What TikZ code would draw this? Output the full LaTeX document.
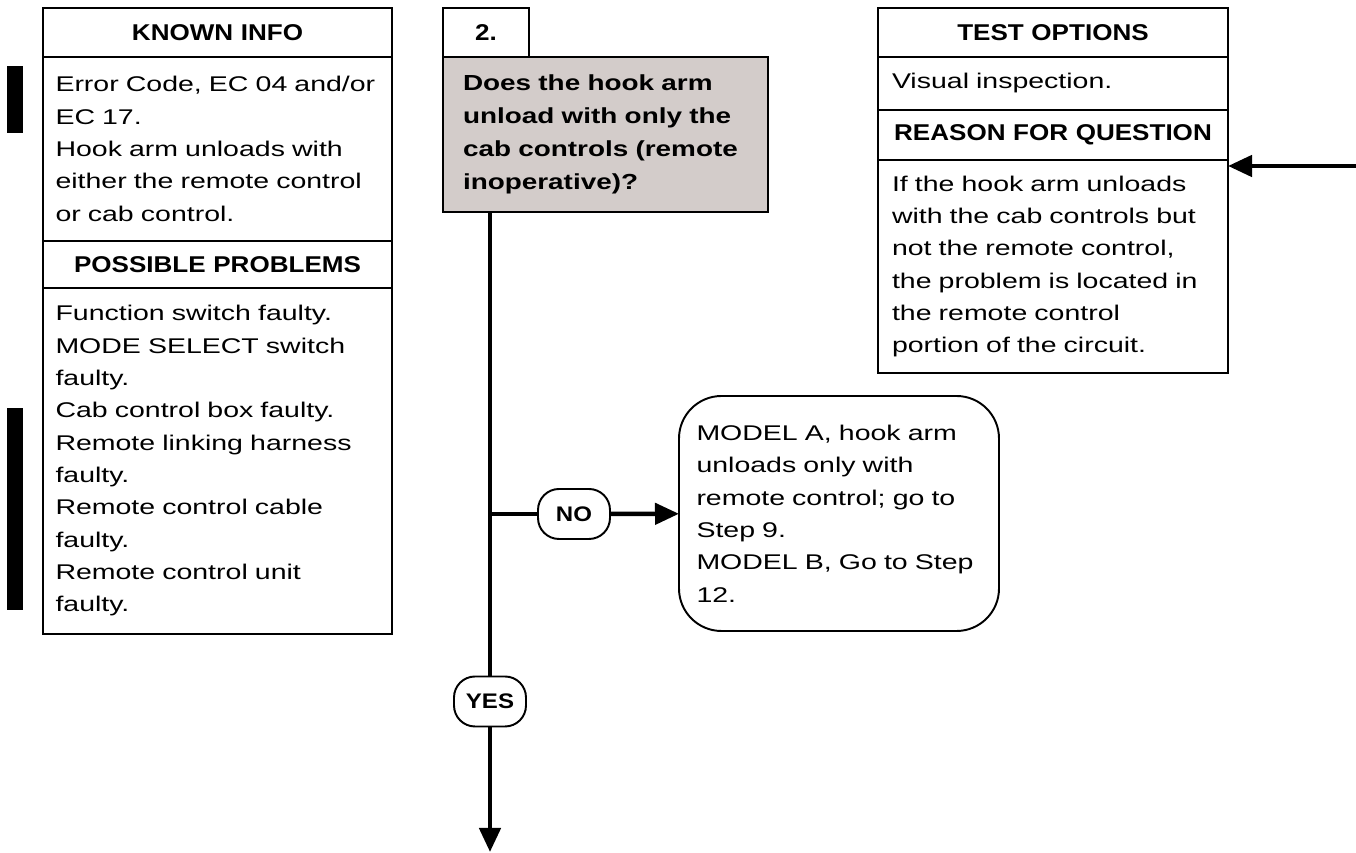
\documentclass[tikz,border=0pt]{standalone}
\usepackage{fontspec}
\setmainfont{Liberation Sans}
\newfontfamily\bodyfont{Liberation Sans}[FakeStretch=1.34]
\newfontfamily\headfont{Liberation Sans}[FakeStretch=1.14,WordSpace=0.35]
\newfontfamily\askfont{Liberation Sans}[FakeStretch=1.28]
\usetikzlibrary{arrows.meta}
\definecolor{askgray}{HTML}{D3CCCA}
\tikzset{
  line/.style={draw=black, line width=2.6pt},
  flow/.style={line, -{Triangle[length=4.8mm,width=4.2mm]}},
  cell/.style={
    draw=black,
    line width=1.1pt,
    outer sep=0pt,
    inner xsep=0.25cm,
    inner ysep=0pt,
    align=left,
    font=\bodyfont\fontsize{12.1pt}{18.4pt}\selectfont
  },
  headcell/.style={cell, align=center,
    font=\headfont\bfseries\fontsize{13pt}{15pt}\selectfont},
  pill/.style={
    draw=black,
    line width=1.1pt,
    fill=white,
    rounded corners=0.42cm,
    minimum width=1.44cm,
    minimum height=1.0cm,
    inner sep=0pt,
    font=\headfont\bfseries\fontsize{12pt}{14pt}\selectfont
  }
}

\begin{document}
\begin{tikzpicture}[x=1cm,y=1cm]
  \path[use as bounding box] (0,0) rectangle (27.12,17.06);

  \fill[black] (0.14,15.74) rectangle (0.46,14.40);
  \fill[black] (0.14,8.90) rectangle (0.46,4.86);

  \node[headcell, anchor=north, text width=6.48cm, minimum height=0.98cm] (khead) at (4.35,16.90)
    {KNOWN INFO};
  \node[cell, anchor=north, text width=6.48cm, minimum height=3.68cm] (kbody) at (khead.south)
    {Error Code, EC 04 and/or\\EC 17.\\Hook arm unloads with\\either the remote control\\or cab control.};
  \node[headcell, anchor=north, text width=6.48cm, minimum height=0.94cm] (phead) at (kbody.south)
    {POSSIBLE PROBLEMS};
  \node[cell, anchor=north, text width=6.48cm, minimum height=6.92cm] (pbody) at (phead.south)
    {Function switch faulty.\\MODE SELECT switch\\faulty.\\Cab control box faulty.\\Remote linking harness\\faulty.\\Remote control cable\\faulty.\\Remote control unit\\faulty.};

  \node[headcell, anchor=north west, text width=1.22cm, minimum height=0.98cm] (step) at (8.86,16.90)
    {2.};
  \node[cell, fill=askgray, anchor=north west, inner xsep=0.40cm, text width=5.70cm, minimum height=3.10cm,
    font=\askfont\bfseries\fontsize{12.4pt}{18.7pt}\selectfont] (ques) at (step.south west)
    {Does the hook arm\\unload with only the\\cab controls (remote\\inoperative)?};

  \node[headcell, anchor=north, text width=6.44cm, inner xsep=0.28cm, minimum height=0.98cm] (thead) at (21.06,16.90)
    {TEST OPTIONS};
  \node[cell, anchor=north, text width=6.44cm, inner xsep=0.28cm, minimum height=1.06cm] (tbody) at (thead.south)
    {Visual inspection.};
  \node[headcell, anchor=north, text width=6.44cm, inner xsep=0.28cm, minimum height=1.00cm] (rhead) at (tbody.south)
    {REASON FOR QUESTION};
  \node[cell, anchor=north, text width=6.44cm, inner xsep=0.28cm, minimum height=4.26cm] (rbody) at (rhead.south)
    {If the hook arm unloads\\with the cab controls but\\not the remote control,\\the problem is located in\\the remote control\\portion of the circuit.};

  \node[pill] (no) at (11.48,6.78) {NO};
  \node[pill] (yes) at (9.80,3.03) {YES};
  \node[cell, rounded corners=0.85cm, inner xsep=0.35cm, text width=5.70cm, minimum height=4.70cm] (ans) at (16.78,6.79)
    {MODEL A, hook arm\\unloads only with\\remote control; go to\\Step 9.\\MODEL B, Go to Step\\12.};

  \coordinate (exit) at (9.80,0.02);
  \coordinate (feed) at (27.12,13.74);

  \draw[line] (ques.south -| yes) -- (yes);
  \draw[flow] (yes) -- (exit);
  \draw[line] (no.west -| yes) -- (no);
  \draw[flow] (no) -- (ans);
  \draw[flow] (feed) -- (feed -| rbody.east);
\end{tikzpicture}
\end{document}
